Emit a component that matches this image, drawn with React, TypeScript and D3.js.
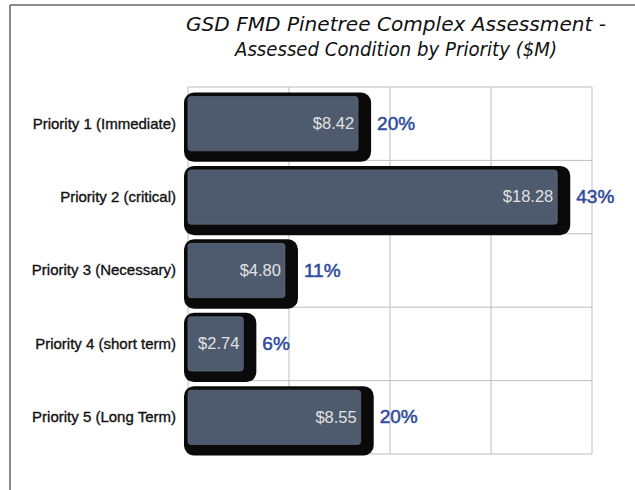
import * as d3 from "d3";

const categories = [
  "Priority 1 (Immediate)",
  "Priority 2 (critical)",
  "Priority 3 (Necessary)",
  "Priority 4 (short term)",
  "Priority 5 (Long Term)",
];
const values = [8.42, 18.28, 4.8, 2.74, 8.55];
const percents = ["20%", "43%", "11%", "6%", "20%"];
const xTicks = [0, 5, 10, 15, 20];
const titleLines = ["GSD FMD Pinetree Complex Assessment -", "Assessed Condition by Priority ($M)"];

const App = () => {
  const width = 635;
  const height = 490;
  const left = 188;
  const right = 592;
  const top = 87;
  const bottom = 454;

  const x = d3.scaleLinear().domain([0, 20]).range([left, right]);
  const y = d3
    .scaleBand()
    .domain(categories)
    .range([top, bottom])
    .paddingInner(0.26)
    .paddingOuter(0.13);

  const step = y.step();
  const bandEdges = categories.map((_, i) => top + i * step).concat([bottom]);

  return (
    <svg
      width={width}
      height={height}
      style={{ position: "absolute", left: 0, top: 0, background: "#fff" }}
    >
      {/* outer frame */}
      <line x1={10} y1={5} x2={10} y2={490} stroke="#666" strokeWidth={1.5} />
      <line x1={10} y1={5} x2={635} y2={5} stroke="#666" strokeWidth={1.5} />

      {/* title */}
      {titleLines.map((t, i) => (
        <text
          key={t}
          x={396}
          y={31 + i * 25}
          textAnchor="middle"
          fontFamily="'DejaVu Sans', sans-serif"
          fontSize={19}
          fontStyle="italic"
          textLength={i === 0 ? 420 : 322}
          lengthAdjust="spacingAndGlyphs"
          fill="#111"
        >
          {t}
        </text>
      ))}

      {/* grid */}
      {xTicks.map((t) => (
        <line key={t} x1={x(t)} x2={x(t)} y1={top} y2={bottom} stroke="#bdbdbd" strokeWidth={1} />
      ))}
      {bandEdges.map((e, i) => (
        <line key={i} x1={left} x2={right} y1={e} y2={e} stroke="#bdbdbd" strokeWidth={1} />
      ))}

      {categories.map((c, i) => {
        const by = y(c) as number;
        const bh = y.bandwidth();
        const bx = x(0);
        const bw = x(values[i]) - x(0);
        return (
          <g key={c}>
            <rect
              x={bx - 4}
              y={by - 4}
              width={bw + 17}
              height={bh + 15}
              rx={10}
              fill="#0a0a0a"
            />
            <rect x={bx} y={by} width={bw} height={bh} rx={3} fill="#4e5a6d" stroke="#6b7585" strokeWidth={0.6} />
            <text
              x={x(values[i]) - 4}
              y={by + bh / 2 + 1}
              textAnchor="end"
              dominantBaseline="middle"
              fontFamily="'Liberation Sans', Arial, sans-serif"
              fontSize={16.5}
              fill="#e2e2e2"
            >
              ${values[i].toFixed(2)}
            </text>
            <text
              x={x(values[i]) + 19}
              y={by + bh / 2 + 1}
              dominantBaseline="middle"
              fontFamily="'Liberation Sans', Arial, sans-serif"
              fontSize={19}
              fill="#2d4a9b"
              stroke="#2d4a9b"
              strokeWidth={0.5}
            >
              {percents[i]}
            </text>
            <text
              x={176}
              y={by + bh / 2 + 1}
              textAnchor="end"
              dominantBaseline="middle"
              fontFamily="'Liberation Sans', Arial, sans-serif"
              fontSize={15}
              fill="#111"
              stroke="#111"
              strokeWidth={0.35}
            >
              {c}
            </text>
          </g>
        );
      })}
    </svg>
  );
};

export default App;
